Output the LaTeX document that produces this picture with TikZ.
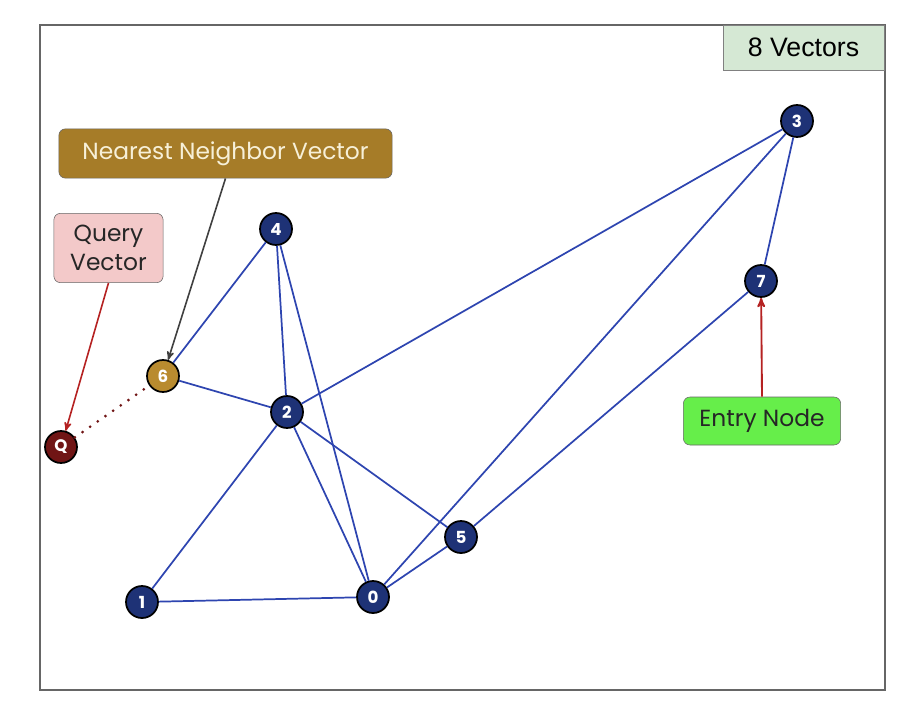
\documentclass[tikz,border=0pt]{standalone}
\usepackage{fontspec}
\setmainfont{Poppins}
\newfontfamily\arialfont{Liberation Sans}
\usetikzlibrary{positioning,arrows,calc}
\definecolor{navy}{HTML}{1E3276}
\definecolor{edgeblue}{HTML}{2E45B0}
\definecolor{gold}{HTML}{A67C28}
\definecolor{goldnode}{HTML}{B98B2F}
\definecolor{goldtext}{HTML}{F7F0D8}
\definecolor{pinkbox}{HTML}{F3C9C9}
\definecolor{querydot}{HTML}{701515}
\definecolor{arrowred}{HTML}{B52222}
\definecolor{entrygreen}{HTML}{66EE4A}
\definecolor{countgreen}{HTML}{D5E8D4}
\begin{document}
\begin{tikzpicture}[
		x=0.75pt, y=-0.75pt,
		> = stealth',
		vec/.style={draw=black,circle,line width=1.3pt,fill=navy,text=white,font=\bfseries\fontsize{12.5}{12.5}\selectfont,minimum size=24pt,inner sep=0pt},
		link/.style={edgeblue,line width=1.3pt},
		label box/.style={draw=black!60,rounded corners=5pt,align=center,inner sep=0pt,font=\fontsize{17.5}{22}\selectfont}
		]
		\useasboundingbox (0,0) rectangle (898,702);
		\draw[black!60,line width=1.3pt] (40,25) rectangle (885,690);
		\node[draw=black!50,fill=countgreen,minimum width=121pt,minimum height=34pt,inner sep=0pt,font=\arialfont\fontsize{20}{20}\selectfont] at (803.5,47.5) (count) {8 Vectors};
		
		% the vectors
		\node[vec] at (373,597) (v0) {0};
		\node[vec] at (142,602) (v1) {1};
		\node[vec] at (287,412) (v2) {2};
		\node[vec] at (797,121) (v3) {3};
		\node[vec] at (276,229) (v4) {4};
		\node[vec] at (461,537) (v5) {5};
		\node[vec,fill=goldnode] at (163,376) (v6) {6};
		\node[vec] at (761,281) (v7) {7};
		\node[vec,fill=querydot] at (61,447) (q) {Q};
		
		% graph links
		\path[link] 
		(v4) edge (v6)
		(v4) edge (v2)
		(v4) edge (v0)
		(v6) edge (v2)
		(v2) edge (v3)
		(v2) edge (v1)
		(v2) edge (v0)
		(v2) edge (v5)
		(v1) edge (v0)
		(v0) edge (v3)
		(v0) edge (v5)
		(v5) edge (v7)
		(v3) edge (v7);
		\draw[querydot,line width=2.3pt,line cap=round,dash pattern=on 0pt off 7pt] (q) -- (v6);
		
		% labels
		\node[label box,fill=gold,text=goldtext,minimum width=250pt,minimum height=37pt] at (225.5,153.5) (nn) {Nearest Neighbor Vector};
		\node[label box,fill=pinkbox,text=black!85,minimum width=82pt,minimum height=52pt] at (108.5,248) (query) {Query\\Vector};
		\node[label box,fill=entrygreen,text=black!85,minimum width=118pt,minimum height=36pt] at (762,421) (entry) {Entry Node};
		\draw[->,black!75,line width=1.2pt] (nn.south) -- (v6);
		\draw[->,arrowred,line width=1.2pt] (query.south) -- (q);
		\draw[->,arrowred,line width=1.4pt] (entry.north) -- (v7);
	\end{tikzpicture}
\end{document}
